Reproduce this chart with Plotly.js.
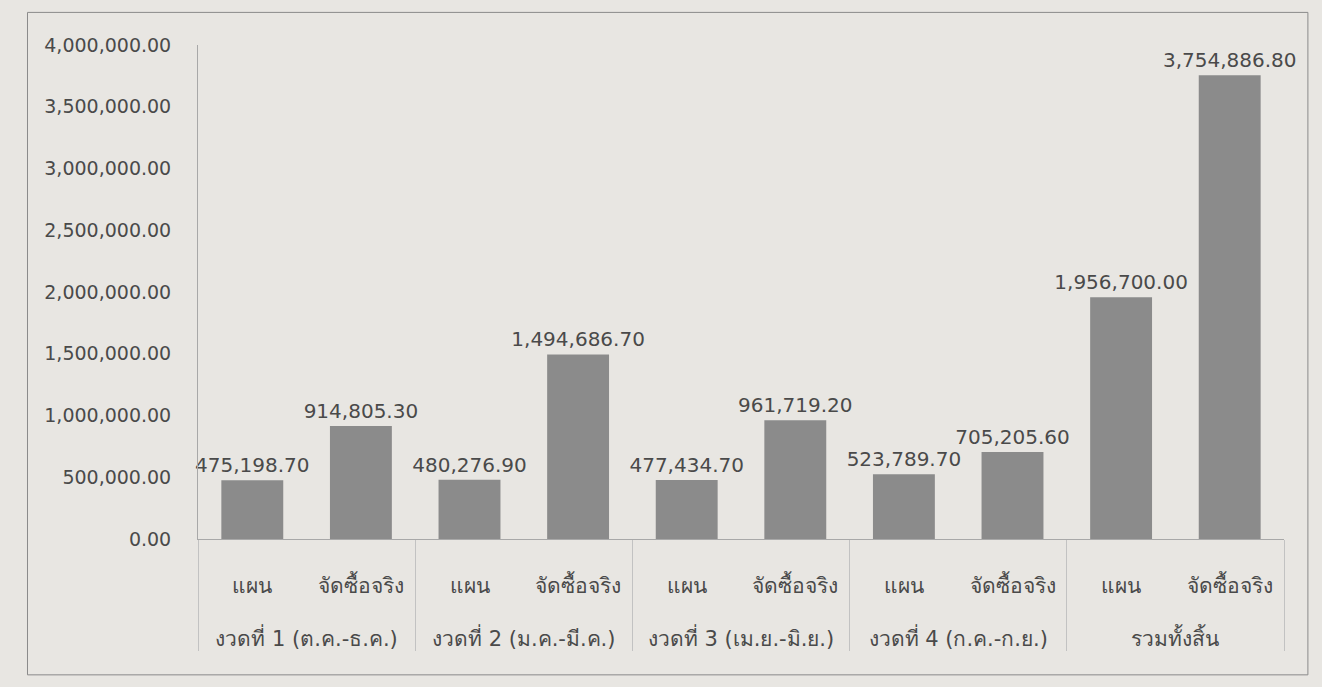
<!DOCTYPE html>
<html>
<head>
<meta charset="utf-8">
<script src="https://cdn.plot.ly/plotly-3.0.1.min.js"></script>
<style>
  html, body { margin: 0; padding: 0; background: #e8e6e2; }
  #chart { width: 1322px; height: 687px; }
</style>
</head>
<body>
<div id="chart"></div>
<script>
// งวด (groups) and แผน / จัดซื้อจริง (sub categories)
const periods = ['งวดที่ 1 (ต.ค.-ธ.ค.)', 'งวดที่ 2 (ม.ค.-มี.ค.)', 'งวดที่ 3 (เม.ย.-มิ.ย.)', 'งวดที่ 4 (ก.ค.-ก.ย.)', 'รวมทั้งสิ้น'];
const kinds = ['แผน', 'จัดซื้อจริง'];
const planValues = [475198.70, 480276.90, 477434.70, 523789.70, 1956700.00];
const actualValues = [914805.30, 1494686.70, 961719.20, 705205.60, 3754886.80];

const groupCol = [];
const kindCol = [];
const values = [];
// blank lines around the sub labels give the roomy spacing of the printed chart
const pad = (s) => '\u00a0<br>' + s + '<br>\u00a0';
periods.forEach((p, i) => {
  groupCol.push(p, p);
  kindCol.push(pad(kinds[0]), pad(kinds[1]));
  values.push(planValues[i], actualValues[i]);
});

const fmt = (v) => v.toLocaleString('en-US', { minimumFractionDigits: 2, maximumFractionDigits: 2 });

const font = { family: 'DejaVu Sans, Noto Sans, sans-serif', size: 19, color: '#4a4a4a' };

const data = [{
  type: 'bar',
  x: [groupCol, kindCol],
  y: values,
  marker: { color: '#8b8b8b' },
  text: values.map(fmt),
  textposition: 'outside',
  constraintext: 'none',
  cliponaxis: false,
  textfont: { family: font.family, size: 20, color: '#4a4a4a' },
  hoverinfo: 'y'
}];

const layout = {
  width: 1322,
  height: 687,
  margin: { l: 198, r: 38, t: 45, b: 148 },
  paper_bgcolor: '#e8e6e2',
  plot_bgcolor: '#e8e6e2',
  font: font,
  bargap: 0.43,
  showlegend: false,
  xaxis: {
    type: 'multicategory',
    showline: true,
    linecolor: '#a8a8a8',
    linewidth: 1,
    showdividers: true,
    dividercolor: '#c2c2c2',
    dividerwidth: 1,
    ticks: '',
    tickfont: { family: font.family, size: 21, color: '#4a4a4a' }
  },
  yaxis: {
    range: [0, 4000000],
    dtick: 500000,
    tickformat: ',.2f',
    showgrid: false,
    zeroline: false,
    showline: true,
    linecolor: '#a8a8a8',
    linewidth: 1,
    ticks: '',
    ticklabelstandoff: 22,
    tickfont: { family: font.family, size: 19, color: '#4a4a4a' }
  },
  shapes: [{
    type: 'rect', xref: 'paper', yref: 'paper',
    x0: -0.157, x1: 1.022, y0: -0.275, y1: 1.066,
    line: { color: '#8a8a8a', width: 1 }
  }]
};

Plotly.newPlot('chart', data, layout, { displayModeBar: false });
</script>
</body>
</html>
